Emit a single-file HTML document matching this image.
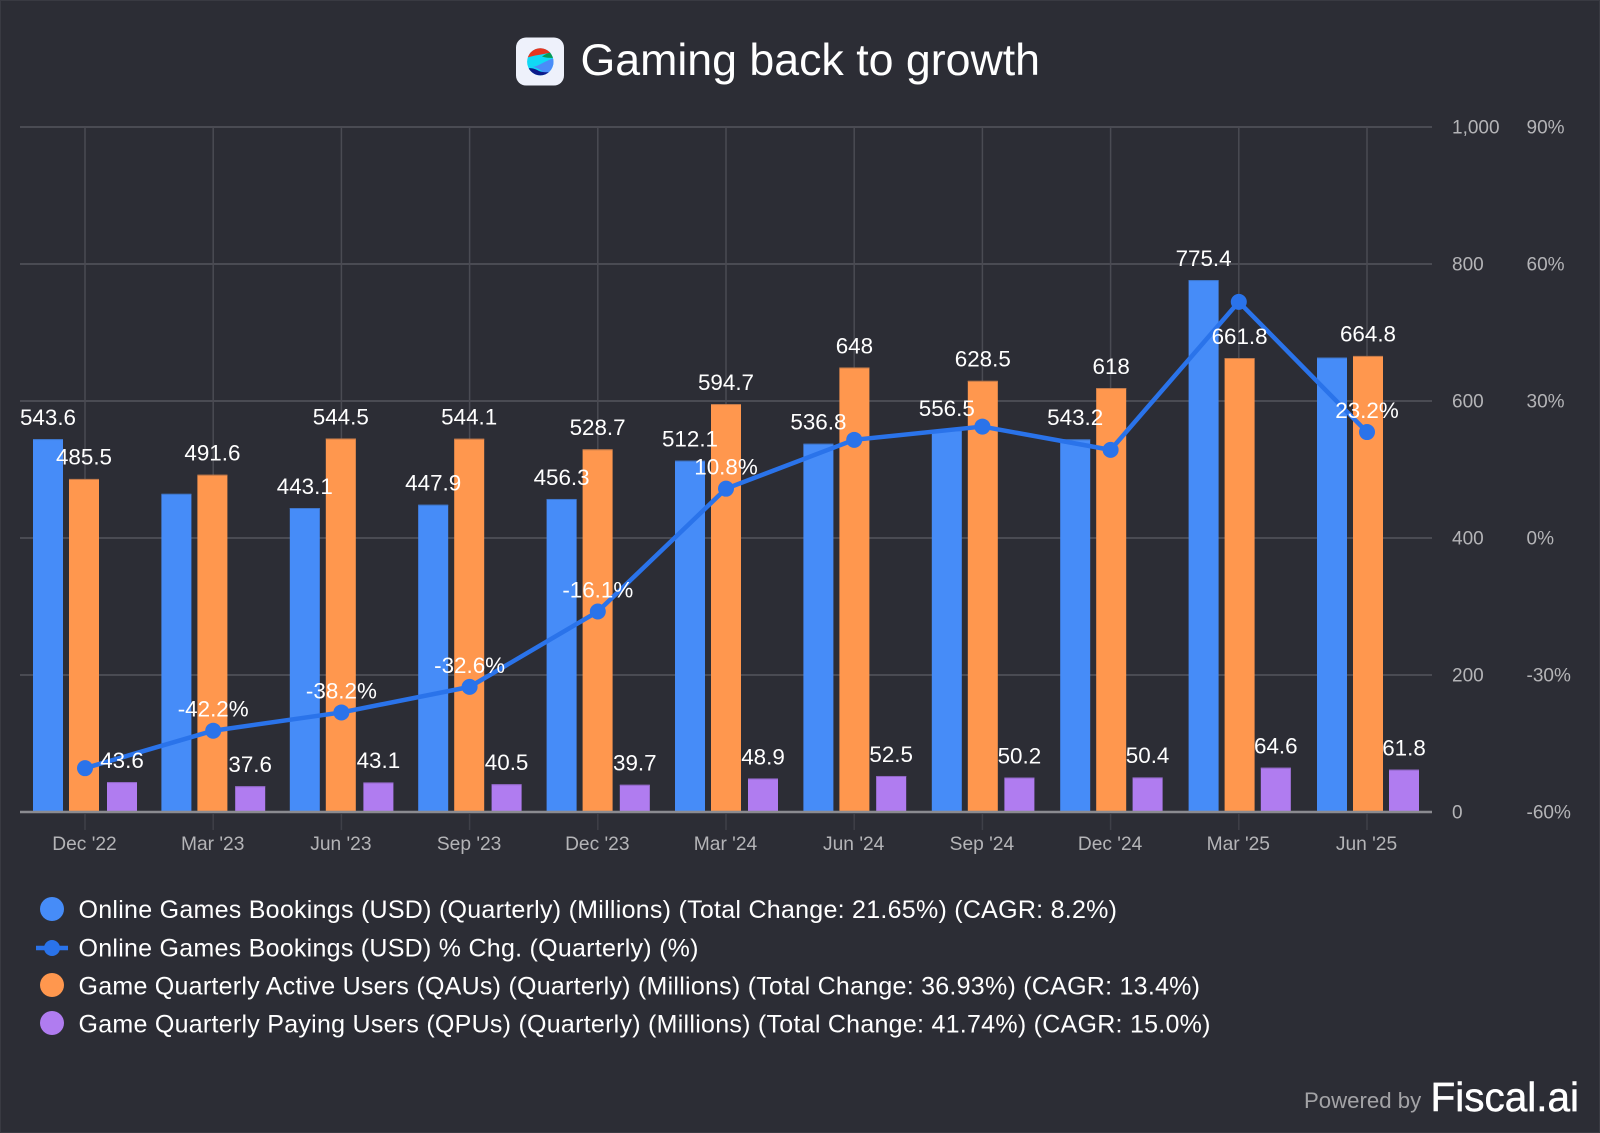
<!DOCTYPE html>
<html lang="en">
<head>
<meta charset="utf-8">
<title>Gaming back to growth</title>
<style>
html,body{margin:0;padding:0;background:#2c2d35;}
body{width:1600px;height:1133px;overflow:hidden;}
svg{display:block;font-family:"Liberation Sans",Arial,sans-serif;}
</style>
</head>
<body>
<svg id="chart" xmlns="http://www.w3.org/2000/svg" width="1600" height="1133" viewBox="0 0 1600 1133">
  <rect x="0" y="0" width="1600" height="1133" fill="#2c2d35"/>
  <rect x="0.5" y="0.5" width="1599" height="1132" fill="none" stroke="#393a42" stroke-width="1"/>
  <defs>
    <clipPath id="logoClip"><ellipse cx="540.3" cy="61.8" rx="13.2" ry="13.6"/></clipPath>
  </defs>
  <g>
    <rect x="516" y="37.5" width="48" height="48" rx="10" fill="#eef1fb"/>
    <g clip-path="url(#logoClip)">
      <rect x="526" y="47" width="30" height="30" fill="#11d8f5"/>
      <path d="M526 47H556V52L546 53.5C540 55 535 55 526 58Z" fill="#e8341f"/>
      <path d="M542 56.5C547 53 550 52 556 52V58C551 58 546 58 542 56.5Z" fill="#0a9a55"/>
      <path d="M533 67C540 65.5 546 60 556 57.5V77H546C544 71 538 68 533 67Z" fill="#4a8cf8"/>
      <path d="M526 69C531 67 535 69 539 71C544 73 550 72 556 72V77H526Z" fill="#0c1a8a"/>
    </g>
  </g>
  <text x="580.5" y="75" font-size="44.7" fill="#ffffff">Gaming back to growth</text>

  <g id="grid"></g>
  <g id="bars"></g>
  <g id="axes"></g>
  <g id="line"></g>
  <g id="labels"></g>

  <g font-size="25" fill="#ffffff">
    <g>
      <circle cx="52" cy="909" r="12" fill="#468cf8"/>
      <text x="78.5" y="918" textLength="1038.5" lengthAdjust="spacing">Online Games Bookings (USD) (Quarterly) (Millions) (Total Change: 21.65%) (CAGR: 8.2%)</text>
    </g>
    <g>
      <line x1="36" y1="948" x2="68" y2="948" stroke="#2a73ea" stroke-width="4.5"/>
      <circle cx="52" cy="948" r="8" fill="#2a73ea"/>
      <text x="78.5" y="956.5" textLength="620" lengthAdjust="spacing">Online Games Bookings (USD) % Chg. (Quarterly) (%)</text>
    </g>
    <g>
      <circle cx="52" cy="985" r="12" fill="#ff974e"/>
      <text x="78.5" y="994.5" textLength="1121.5" lengthAdjust="spacing">Game Quarterly Active Users (QAUs) (Quarterly) (Millions) (Total Change: 36.93%) (CAGR: 13.4%)</text>
    </g>
    <g>
      <circle cx="52" cy="1023" r="12" fill="#b07cf0"/>
      <text x="78.5" y="1032.5" textLength="1132" lengthAdjust="spacing">Game Quarterly Paying Users (QPUs) (Quarterly) (Millions) (Total Change: 41.74%) (CAGR: 15.0%)</text>
    </g>
  </g>

  <text x="1304" y="1108" font-size="22.2" fill="#a3a3a6">Powered by</text>
  <text x="1430.5" y="1111" font-size="40.5" fill="#ffffff" stroke="#ffffff" stroke-width="0.5">Fiscal.ai</text>
</svg>

<script>
const categories = ["Dec '22","Mar '23","Jun '23","Sep '23","Dec '23","Mar '24","Jun '24","Sep '24","Dec '24","Mar '25","Jun '25"];
const bookings = [543.6,463.8,443.1,447.9,456.3,512.1,536.8,556.5,543.2,775.4,662.5];
const bookingsLabelHidden = [false,true,false,false,false,false,false,false,false,false,true];
const pctChange = [-50.4,-42.2,-38.2,-32.6,-16.1,10.8,21.5,24.4,19.3,51.7,23.2];
const pctLabelHidden = [true,false,false,false,false,false,true,true,true,true,false];
const qau = [485.5,491.6,544.5,544.1,528.7,594.7,648,628.5,618,661.8,664.8];
const qpu = [43.6,37.6,43.1,40.5,39.7,48.9,52.5,50.2,50.4,64.6,61.8];
const leftTicks = [0,200,400,600,800,1000];
const leftTickLabels = ["0","200","400","600","800","1,000"];
const rightTicks = [-60,-30,0,30,60,90];
const rightTickLabels = ["-60%","-30%","0%","30%","60%","90%"];

const NS = 'http://www.w3.org/2000/svg';
const plotTop = 127, plotBottom = 812, plotLeft = 20, plotRight = 1432;
const firstCenter = 85, step = 128.2;
const barWidth = 30;

function xCenter(i){ return firstCenter + i * step; }
function yLeft(v){ return plotBottom - v / 1000 * (plotBottom - plotTop); }
function yBar(v){ return plotBottom - v * 0.686; }
function yRight(p){ return plotBottom - (p + 60) / 150 * (plotBottom - plotTop); }
function xBookings(i){ return 33 + i * 128.4; }
function xQau(i){ return 69 + i * 128.4; }
function xQpu(i){ return 107 + i * 128.2; }

function make(tag, attrs, parent, text){
  const el = document.createElementNS(NS, tag);
  for (const k in attrs) el.setAttribute(k, attrs[k]);
  if (text !== undefined) el.textContent = text;
  parent.appendChild(el);
  return el;
}

const gridG = document.getElementById('grid');
const barsG = document.getElementById('bars');
const axesG = document.getElementById('axes');
const lineG = document.getElementById('line');
const labelsG = document.getElementById('labels');

// Horizontal gridlines and right-hand tick labels
leftTicks.forEach(function(t, i){
  const y = yLeft(t);
  if (t !== 0) {
    const g = make('line', {x1: plotLeft, x2: plotRight, y1: y, y2: y, stroke: '#4a4b53', 'stroke-width': 2}, gridG);
    
    
  }
  const lab = make('text', {x: 1452, y: y + 6.5, 'font-size': 19, fill: '#b4b4b7'}, axesG, leftTickLabels[i]);
  
  
});
rightTicks.forEach(function(t, i){
  const lab = make('text', {x: 1526.5, y: yRight(t) + 6.5, 'font-size': 19, fill: '#b4b4b7'}, axesG, rightTickLabels[i]);
  
  
});

// Vertical gridlines, ticks and category labels
categories.forEach(function(c, i){
  const x = xCenter(i);
  const v = make('line', {x1: x, x2: x, y1: plotTop, y2: plotBottom, stroke: '#4a4b53', 'stroke-width': 1.5}, gridG);
  
  
  const t = make('line', {x1: x, x2: x, y1: plotBottom + 2, y2: plotBottom + 18, stroke: '#3f4048', 'stroke-width': 1.5}, axesG);
  
  
  const lab = make('text', {x: x - 0.5, y: 850, 'font-size': 19.2, fill: '#b4b4b7', 'text-anchor': 'middle'}, axesG, c);
  
  
});

// Bars
function drawBars(values, xFn, fill, cap, name){
  values.forEach(function(v, i){
    const x = xFn(i);
    const y = yBar(v);
    const r = make('rect', {x: x, y: y, width: barWidth, height: plotBottom - y, fill: fill}, barsG);
    
    
    const c = make('rect', {x: x, y: y, width: barWidth, height: 1, fill: cap}, barsG);
    
    
  });
}
drawBars(bookings, xBookings, '#468cf8', '#3f76c9', 'bookings-bar');
drawBars(qau, xQau, '#ff974e', '#c0794a', 'qau-bar');
drawBars(qpu, xQpu, '#b07cf0', '#8f66c4', 'qpu-bar');

// Baseline
const base = make('line', {x1: plotLeft, x2: plotRight, y1: plotBottom, y2: plotBottom, stroke: '#8b8b90', 'stroke-width': 2.5}, axesG);



// Percent change line
const pts = pctChange.map(function(p, i){ return xCenter(i) + ',' + yRight(p); }).join(' ');
const poly = make('polyline', {points: pts, fill: 'none', stroke: '#2a73ea', 'stroke-width': 4.5, 'stroke-linejoin': 'round'}, lineG);


pctChange.forEach(function(p, i){
  const c = make('circle', {cx: xCenter(i), cy: yRight(p), r: 8, fill: '#2a73ea'}, lineG);
  
  
});

// Value labels
function barLabel(v, i, xFn, name){
  const lab = make('text', {x: xFn(i) + barWidth / 2, y: yBar(v) - 14.2, 'font-size': 22.4, fill: '#ffffff', 'text-anchor': 'middle'}, labelsG, String(v));
  
  
}
bookings.forEach(function(v, i){ if (!bookingsLabelHidden[i]) barLabel(v, i, xBookings, 'bookings-value-label'); });
qau.forEach(function(v, i){ barLabel(v, i, xQau, 'qau-value-label'); });
qpu.forEach(function(v, i){ barLabel(v, i, xQpu, 'qpu-value-label'); });
pctChange.forEach(function(p, i){
  if (pctLabelHidden[i]) return;
  const lab = make('text', {x: xCenter(i), y: yRight(p) - 14, 'font-size': 22.4, fill: '#ffffff', 'text-anchor': 'middle'}, labelsG, p + '%');
  
  
});
</script>
</body>
</html>
